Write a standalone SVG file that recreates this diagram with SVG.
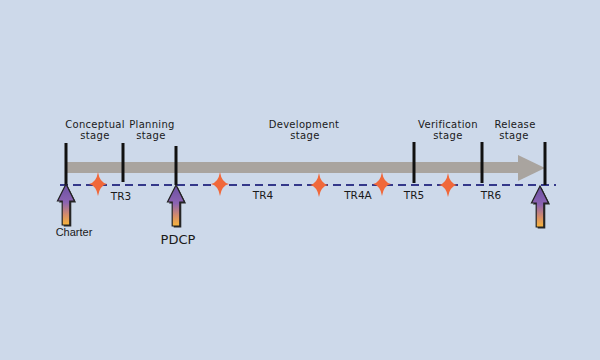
<svg xmlns="http://www.w3.org/2000/svg" width="600" height="360" viewBox="0 0 600 360">
<style>
.lbl{font-family:"DejaVu Sans","Open Sans",sans-serif;font-size:10px;fill:#1a1a1a;text-anchor:middle;letter-spacing:0.3px}
.tr{font-family:"DejaVu Sans","Open Sans",sans-serif;font-size:10.5px;fill:#1a1a1a;text-anchor:middle}
.tick{stroke:#111;stroke-width:3}
.star{fill:#f0683a}
.arr{fill:url(#ag);stroke:#222;stroke-width:1.2}
.sh{fill:#2a2a2a}
</style>
<defs>
<linearGradient id="ag" x1="0" y1="0" x2="0" y2="1">
<stop offset="0" stop-color="#6a4fa2"/>
<stop offset="0.45" stop-color="#8c64b2"/>
<stop offset="0.75" stop-color="#d58c6a"/>
<stop offset="1" stop-color="#f8b53a"/>
</linearGradient>
<path id="st" d="M0,-12 Q1.6,-1.6 9,0 Q1.6,1.6 0,12 Q-1.6,1.6 -9,0 Q-1.6,-1.6 0,-12 Z"/>
<path id="up" d="M0,0 L8.5,17 L3.8,17 L3.8,41 L-3.8,41 L-3.8,17 L-8.5,17 Z"/>
</defs>
<rect width="600" height="360" fill="#cdd9ea"/>
<g id="connectors">
<rect x="67" y="162" width="452" height="11" fill="#a9a49f"/>
<polygon points="518,155 545,168 518,181" fill="#a9a49f"/>
<line x1="60" y1="185" x2="556" y2="185" stroke="#34388a" stroke-width="2" stroke-dasharray="8,5"/>
</g>
<g id="ticks">
<line class="tick" x1="66" y1="143" x2="66" y2="185"/>
<line class="tick" x1="123" y1="143" x2="123" y2="182"/>
<line class="tick" x1="176" y1="146" x2="176" y2="185"/>
<line class="tick" x1="414" y1="142" x2="414" y2="183"/>
<line class="tick" x1="482" y1="142" x2="482" y2="183"/>
<line class="tick" x1="545" y1="142" x2="545" y2="185"/>
</g>
<g id="stage-conceptual"><text class="lbl" x="95" y="128">Conceptual</text><text class="lbl" x="95" y="139">stage</text></g>
<g id="stage-planning"><text class="lbl" x="152" y="128">Planning</text><text class="lbl" x="151" y="139">stage</text></g>
<g id="stage-development"><text class="lbl" x="304" y="128">Development</text><text class="lbl" x="305" y="139">stage</text></g>
<g id="stage-verification"><text class="lbl" x="448" y="128">Verification</text><text class="lbl" x="448" y="139">stage</text></g>
<g id="stage-release"><text class="lbl" x="515" y="128">Release</text><text class="lbl" x="514" y="139">stage</text></g>
<g id="stars">
<use href="#st" class="star" x="98" y="184"/>
<use href="#st" class="star" x="220" y="184"/>
<use href="#st" class="star" x="319" y="185"/>
<use href="#st" class="star" x="382" y="184"/>
<use href="#st" class="star" x="448" y="185"/>
</g>
<g id="tr3"><text class="tr" x="121" y="200">TR3</text></g>
<g id="tr4"><text class="tr" x="263" y="199">TR4</text></g>
<g id="tr4a"><text class="tr" x="358" y="199">TR4A</text></g>
<g id="tr5"><text class="tr" x="414" y="199">TR5</text></g>
<g id="tr6"><text class="tr" x="491" y="199">TR6</text></g>
<g id="charter">
<use href="#up" class="sh" x="67.5" y="185.5"/>
<use href="#up" class="arr" x="66" y="184"/>
<text x="74" y="236" font-family="Liberation Sans, Arial, sans-serif" font-size="11" fill="#1a1a1a" text-anchor="middle">Charter</text>
</g>
<g id="pdcp">
<use href="#up" class="sh" x="177.5" y="186.5"/>
<use href="#up" class="arr" x="176" y="185"/>
<text x="178" y="244" font-family="DejaVu Sans, sans-serif" font-size="13" fill="#1a1a1a" text-anchor="middle">PDCP</text>
</g>
<g id="release">
<use href="#up" class="sh" x="541.5" y="187.5"/>
<use href="#up" class="arr" x="540" y="186"/>
</g>
</svg>
